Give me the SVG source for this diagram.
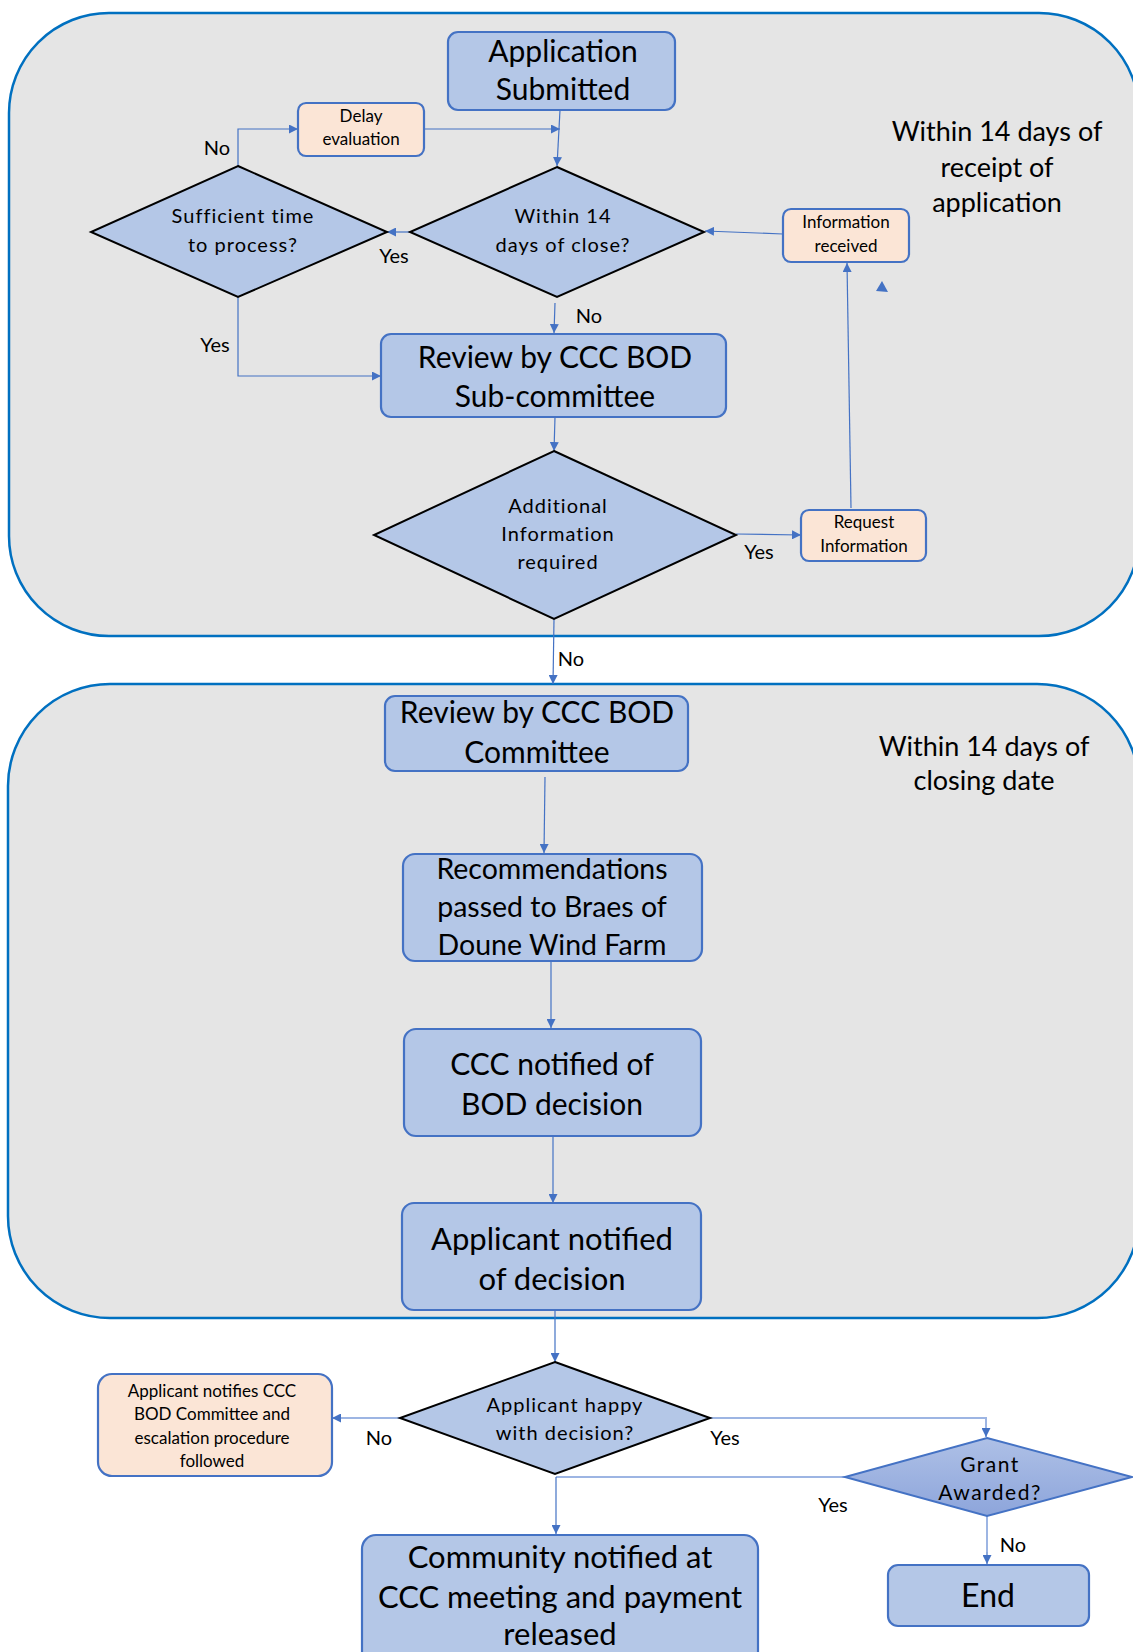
<svg xmlns="http://www.w3.org/2000/svg" width="1133" height="1652" viewBox="0 0 1133 1652">
<defs>
<marker id="ah" viewBox="0 0 10 10" refX="10" refY="5" markerWidth="9" markerHeight="9" markerUnits="userSpaceOnUse" orient="auto">
<path d="M0,0 L10,5 L0,10 z" fill="#4472C4"/>
</marker>
<linearGradient id="gg" x1="0" y1="0" x2="0" y2="1">
<stop offset="0" stop-color="#AEC0E6"/>
<stop offset="1" stop-color="#8DA5DB"/>
</linearGradient>
<style>
.panel{fill:#E5E5E5;stroke:#0070C0;stroke-width:2.5}
.box{fill:#B4C7E7;stroke:#4472C4;stroke-width:2.2}
.pbox{fill:#FBE5D6;stroke:#4472C4;stroke-width:2.2}
.dia{fill:#B4C7E7;stroke:#000;stroke-width:2}
.c{fill:none;stroke:#4472C4;stroke-width:1.2}
.cl{fill:none;stroke:#9DB5E3;stroke-width:2}
text{font-family:Lato,"Open Sans","Liberation Sans",sans-serif;fill:#000;text-anchor:middle}
.big{font-size:30px}
.mid{font-size:27px}
.rec{font-size:28.5px}
.sm{font-size:17px}
.dt{font-size:20px;letter-spacing:1px}
.lbl{font-size:20px}
</style>
</defs>
<rect class="panel" x="9" y="13" width="1130" height="623" rx="100" ry="100"/>
<rect class="panel" x="8" y="684" width="1131" height="634" rx="102" ry="102"/>
<text class="mid" x="997" y="141">Within 14 days of</text>
<text class="mid" x="997" y="177">receipt of</text>
<text class="mid" x="997" y="212">application</text>
<text class="mid" x="984" y="756">Within 14 days of</text>
<text class="mid" x="984" y="790">closing date</text>
<polygon points="882,281 876,291 888,292" fill="#4472C4"/>
<g id="connectors">
<path class="c" d="M560,110 L557,166" marker-end="url(#ah)"/>
<path class="c" d="M424,129 L560,129" marker-end="url(#ah)"/>
<path class="c" d="M238,166 L238,129 L298,129" marker-end="url(#ah)"/>
<path class="c" d="M410,232 L387,232" marker-end="url(#ah)"/>
<path class="c" d="M783,234 L705,231" marker-end="url(#ah)"/>
<path class="c" d="M555,303 L554,333" marker-end="url(#ah)"/>
<path class="c" d="M238,297 L238,376 L381,376" marker-end="url(#ah)"/>
<path class="c" d="M555,417 L554,451" marker-end="url(#ah)"/>
<path class="c" d="M736,534 L801,535" marker-end="url(#ah)"/>
<path class="c" d="M851,508 L847,263" marker-end="url(#ah)"/>
<path class="c" d="M554,619 L553,684" marker-end="url(#ah)"/>
<path class="c" d="M545,777 L544,853" marker-end="url(#ah)"/>
<path class="c" d="M551,961 L551,1028" marker-end="url(#ah)"/>
<path class="c" d="M553,1137 L553,1203" marker-end="url(#ah)"/>
<path class="c" d="M555,1310 L555,1362" marker-end="url(#ah)"/>
<path class="cl" d="M400,1418 L340,1418"/>
<path class="c" d="M340,1418 L332,1418" marker-end="url(#ah)"/>
<path class="cl" d="M710,1418 L986,1418 L986,1428"/>
<path class="c" d="M986,1428 L986,1437" marker-end="url(#ah)"/>
<path class="cl" d="M845,1477 L556,1477"/>
<path class="c" d="M556,1477 L556,1534" marker-end="url(#ah)"/>
<path class="cl" d="M987,1516 L987,1552"/>
<path class="c" d="M987,1552 L987,1564" marker-end="url(#ah)"/>
</g>
<g id="labels">
<text class="lbl" x="217" y="155">No</text>
<text class="lbl" x="394" y="263">Yes</text>
<text class="lbl" x="589" y="323">No</text>
<text class="lbl" x="215" y="352">Yes</text>
<text class="lbl" x="759" y="559">Yes</text>
<text class="lbl" x="571" y="666">No</text>
<text class="lbl" x="379" y="1445">No</text>
<text class="lbl" x="725" y="1445">Yes</text>
<text class="lbl" x="833" y="1512">Yes</text>
<text class="lbl" x="1013" y="1552">No</text>
</g>
<g id="n-app-submitted">
<rect class="box" x="448" y="32" width="227" height="78" rx="10"/>
<text class="big" x="563" y="62">Application</text>
<text class="big" x="563" y="100">Submitted</text>
</g>
<g id="n-delay">
<rect class="pbox" x="298" y="103" width="126" height="53" rx="8"/>
<text class="sm" x="361" y="122">Delay</text>
<text class="sm" x="361" y="145">evaluation</text>
</g>
<g id="n-sufficient">
<polygon class="dia" points="238,166 387,232 238,297 91,232"/>
<text class="dt" x="243" y="223">Sufficient time</text>
<text class="dt" x="243" y="252">to process?</text>
</g>
<g id="n-within14">
<polygon class="dia" points="557,167 704,232 557,297 410,232"/>
<text class="dt" x="563" y="223">Within 14</text>
<text class="dt" x="563" y="252">days of close?</text>
</g>
<g id="n-info-received">
<rect class="pbox" x="783" y="209" width="126" height="53" rx="8"/>
<text class="sm" x="846" y="228">Information</text>
<text class="sm" x="846" y="252">received</text>
</g>
<g id="n-review-sub">
<rect class="box" x="381" y="334" width="345" height="83" rx="10"/>
<text class="big" x="555" y="368">Review by CCC BOD</text>
<text class="big" x="555" y="407">Sub-committee</text>
</g>
<g id="n-additional">
<polygon class="dia" points="554,451 736,535 554,619 374,535"/>
<text class="dt" x="558" y="513">Additional</text>
<text class="dt" x="558" y="541">Information</text>
<text class="dt" x="558" y="569">required</text>
</g>
<g id="n-request">
<rect class="pbox" x="801" y="510" width="125" height="51" rx="8"/>
<text class="sm" x="864" y="528">Request</text>
<text class="sm" x="864" y="552">Information</text>
</g>
<g id="n-review-committee">
<rect class="box" x="385" y="696" width="303" height="75" rx="10"/>
<text class="big" x="537" y="723">Review by CCC BOD</text>
<text class="big" x="537" y="763">Committee</text>
</g>
<g id="n-recommendations">
<rect class="box" x="403" y="854" width="299" height="107" rx="12"/>
<text class="rec" x="552" y="879">Recommendations</text>
<text class="rec" x="552" y="917">passed to Braes of</text>
<text class="rec" x="552" y="955">Doune Wind Farm</text>
</g>
<g id="n-ccc-notified">
<rect class="box" x="404" y="1029" width="297" height="107" rx="12"/>
<text class="big" x="552" y="1075">CCC notified of</text>
<text class="big" x="552" y="1115">BOD decision</text>
</g>
<g id="n-applicant-notified">
<rect class="box" x="402" y="1203" width="299" height="107" rx="12"/>
<text class="big" x="552" y="1250" style="font-size:31px">Applicant notified</text>
<text class="big" x="552" y="1290" style="font-size:31px">of decision</text>
</g>
<g id="n-happy">
<polygon class="dia" points="555,1362 710,1418 555,1474 400,1418"/>
<text class="dt" x="565" y="1412">Applicant happy</text>
<text class="dt" x="565" y="1440">with decision?</text>
</g>
<g id="n-escalation">
<rect class="pbox" x="98" y="1374" width="234" height="102" rx="14"/>
<text class="sm" x="212" y="1397">Applicant notifies CCC</text>
<text class="sm" x="212" y="1420">BOD Committee and</text>
<text class="sm" x="212" y="1444">escalation procedure</text>
<text class="sm" x="212" y="1467">followed</text>
</g>
<g id="n-grant">
<polygon points="987,1438 1132,1477 987,1516 845,1477" fill="url(#gg)" stroke="#4472C4" stroke-width="2"/>
<text x="990" y="1472" style="font-size:21px;letter-spacing:1.5px">Grant</text>
<text x="990" y="1500" style="font-size:21px;letter-spacing:1.5px">Awarded?</text>
</g>
<g id="n-community">
<rect class="box" x="362" y="1535" width="396" height="140" rx="14"/>
<text class="big" x="560" y="1568" style="font-size:31px">Community notified at</text>
<text class="big" x="560" y="1608" style="font-size:31px">CCC meeting and payment</text>
<text class="big" x="560" y="1645" style="font-size:31px">released</text>
</g>
<g id="n-end">
<rect class="box" x="888" y="1565" width="201" height="61" rx="10"/>
<text x="988" y="1607" style="font-size:32px">End</text>
</g>
</svg>
